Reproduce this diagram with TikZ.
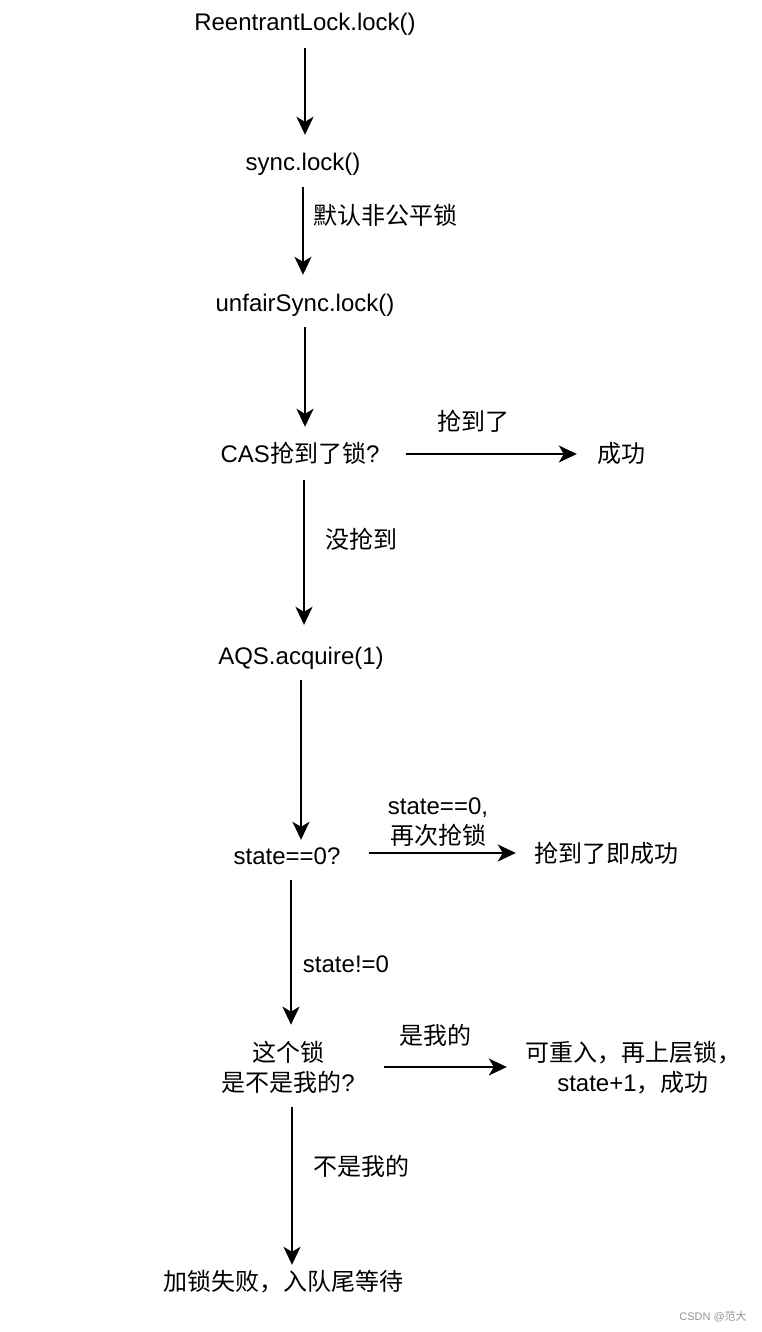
\documentclass[tikz,border=0pt]{standalone}
\usepackage{fontspec}
\setmainfont{Liberation Sans}
\newfontfamily\cjk{Noto Sans CJK SC}
\newcommand\zh[1]{{\cjk #1}}
\usetikzlibrary{arrows.meta}
\definecolor{markgray}{RGB}{150,150,150}
\tikzset{
txt/.style={inner sep=0pt, text height=18pt, text depth=6pt, font=\fontsize{24}{30}\selectfont}, % one line of text
twoline/.style={inner sep=0pt, align=center, font=\fontsize{24}{30}\selectfont}, % two lines of text
flow/.style={-{Stealth[length=18pt,width=17pt,inset=5pt]}, line width=1.8pt, shorten <=10pt, shorten >=18pt}, % the arrows
}
\begin{document}
\begin{tikzpicture}[x=1pt,y=-1pt]
\useasboundingbox (0,0) rectangle (762,1332);
\node[txt] at (305,25) (rlock) {ReentrantLock.lock()};
\node[txt] at (303,165) (sync) {sync.lock()};
\node[txt] at (305,305) (unfair) {unfairSync.lock()};
\node[txt] at (300,456) (cas) {CAS\zh{抢到了锁}?};
\node[txt] at (621,456) (ok1) {\zh{成功}};
\node[txt] at (301,658) (aqs) {AQS.acquire(1)};
\node[txt] at (287,858) (st) {state==0?};
\node[txt] at (606,856) (ok2) {\zh{抢到了即成功}};
\node[twoline] at (288,1067) (own) {\zh{这个锁}\\\zh{是不是我的}?};
\node[twoline] at (633,1068) (reent) {\zh{可重入，再上层锁，}\\state+1\zh{，成功}};
\node[txt] at (283,1284) (fail) {\zh{加锁失败，入队尾等待}};
% edge labels
\node[txt] at (385,219) (lfair) {\zh{默认非公平锁}};
\node[txt] at (473,424) (lgot) {\zh{抢到了}};
\node[txt] at (361,542) (lmiss) {\zh{没抢到}};
\node[twoline] at (438,822) (lretry) {state==0,\\\zh{再次抢锁}};
\node[txt] at (346,966) (lnz) {state!=0};
\node[txt] at (435,1038) (lmine) {\zh{是我的}};
\node[txt] at (361,1169) (lnot) {\zh{不是我的}};
\node[font=\fontsize{11}{13}\selectfont, text=markgray, inner sep=0pt] at (713,1317) (mark) {CSDN @\zh{范大}};
\draw[flow, shorten <=11pt] (rlock.south) -- (rlock.south |- sync.north);
\draw[flow] (sync.south) -- (sync.south |- unfair.north);
\draw[flow, shorten >=17pt] (unfair.south) -- (unfair.south |- cas.north);
\draw[flow, shorten <=12pt, shorten >=21pt] ([xshift=4]cas.south) -- ([xshift=4]cas.south |- aqs.north);
\draw[flow, shorten >=6pt] (aqs.south) -- (aqs.south |- st.north);
\draw[flow, shorten >=16pt] ([xshift=4]st.south) -- ([xshift=4]st.south |- own.north);
\draw[flow, shorten <=14pt, shorten >=7pt] ([xshift=4]own.south) -- ([xshift=4]own.south |- fail.north);
\draw[flow, shorten <=26pt, shorten >=20pt] ([yshift=2]cas.east) -- ([yshift=2]cas.east -| ok1.west);
\draw[flow, shorten <=28pt, shorten >=18pt] ([yshift=5]st.east) -- ([yshift=5]st.east -| ok2.west);
\draw[flow, shorten <=29pt, shorten >=18pt] (own.east) -- (own.east -| reent.west);
\end{tikzpicture}
\end{document}
